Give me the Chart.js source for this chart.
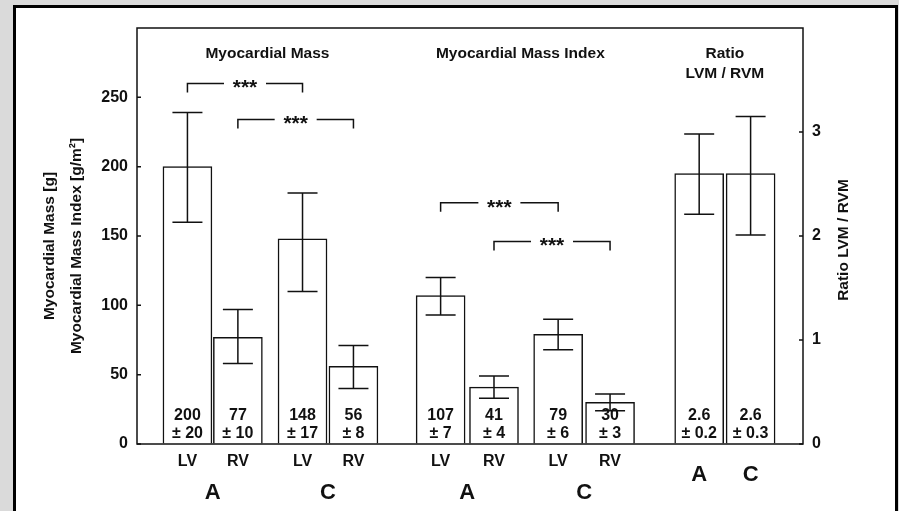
<!DOCTYPE html>
<html>
<head>
<meta charset="utf-8">
<title>Myocardial Mass</title>
<script src="https://cdn.jsdelivr.net/npm/chart.js@4.4.1/dist/chart.umd.min.js"></script>
<style>
  html, body { margin: 0; padding: 0; }
  body { width: 899px; height: 511px; background: #dadada; position: relative; overflow: hidden; }
  #panel { position: absolute; left: 13px; top: 5px; width: 879px; height: 520px; background: #fff;
           border: 3px solid #000; border-bottom: none; }
  #wrap { position: absolute; left: 0; top: 0; width: 899px; height: 511px; }
</style>
</head>
<body>
<div id="panel"></div>
<div id="wrap"><canvas id="massChart" width="899" height="511"></canvas></div>
<script>
// bar labels under each bar (ratio bars use the big group letters instead)
const barLabels = ['LV', 'RV', 'LV', 'RV', 'LV', 'RV', 'LV', 'RV', '', ''];

// myocardial mass [g]
const massValues = [200, 77, 148, 56];
const massSd = [20, 10, 17, 8];
const massErrHi = [239, 97, 181, 71];
const massErrLo = [160, 58, 110, 40];

// myocardial mass index [g/m²]
const indexValues = [107, 41, 79, 30];
const indexSd = [7, 4, 6, 3];
const indexErrHi = [120, 49, 90, 36];
const indexErrLo = [93, 33, 68, 24];

// LVM / RVM ratio
const ratioValues = [2.6, 2.6];
const ratioSd = [0.2, 0.3];
const ratioErrHi = [2.98, 3.15];
const ratioErrLo = [2.21, 2.01];

const leftTicks = [0, 50, 100, 150, 200, 250];
const rightTicks = [0, 1, 2, 3];

// *** brackets: bar slot indices and height on the left axis
const sigFrom = [0, 1, 4, 5];
const sigTo = [2, 3, 6, 7];
const sigLevel = [260, 234, 174, 146];

const groupLetters = ['A', 'C', 'A', 'C', 'A', 'C'];
const groupSlots = [[0, 1], [2, 3], [4, 5], [6, 7], [8], [9]];

const sectionTitles = [['Myocardial Mass'], ['Myocardial Mass Index'], ['Ratio', 'LVM / RVM']];
const sectionSlots = [[0, 3], [4, 7], [8, 9]];
const sectionShift = [-3, -5, 0];

const leftTitle = ['Myocardial Mass [g]', 'Myocardial Mass Index [g/m²]'];
const rightTitle = 'Ratio LVM / RVM';

// layout: bar centres along the hidden x scale, in bar widths
const barPos = [1.03, 2.06, 3.38, 4.42, 6.2, 7.29, 8.6, 9.66, 11.48, 12.53];

const FONT = "'Liberation Sans', Arial, Helvetica, sans-serif";
const INK = '#111';

const slotData = (vals, first) => vals.map((v, i) => ({ x: barPos[first + i], y: v }));

const barStyle = {
  backgroundColor: '#ffffff',
  borderColor: INK,
  borderWidth: 1.5,
  borderSkipped: 'start',
  barThickness: 49,
  grouped: false
};

const decorations = {
  id: 'decorations',
  afterDatasetsDraw(chart) {
    const ctx = chart.ctx;
    const area = chart.chartArea;
    const yL = chart.scales.y;
    const yR = chart.scales.y1;
    const slotX = [];
    ctx.save();
    ctx.strokeStyle = INK;
    ctx.fillStyle = INK;
    ctx.lineWidth = 1.5;

    // error bars and value labels inside the bars
    chart.data.datasets.forEach((ds, di) => {
      const meta = chart.getDatasetMeta(di);
      const sc = chart.scales[ds.yAxisID];
      meta.data.forEach((bar, i) => {
        slotX[ds.firstSlot + i] = bar.x;
        const yHi = sc.getPixelForValue(ds.errHi[i]);
        const yLo = sc.getPixelForValue(ds.errLo[i]);
        ctx.beginPath();
        ctx.moveTo(bar.x, yLo); ctx.lineTo(bar.x, yHi);
        ctx.moveTo(bar.x - 15, yHi); ctx.lineTo(bar.x + 15, yHi);
        ctx.moveTo(bar.x - 15, yLo); ctx.lineTo(bar.x + 15, yLo);
        ctx.stroke();
        ctx.font = 'bold 16px ' + FONT;
        ctx.textAlign = 'center';
        ctx.textBaseline = 'middle';
        ctx.fillText(String(ds.data[i].y), bar.x, area.bottom - 28);
        ctx.fillText('± ' + ds.sd[i], bar.x, area.bottom - 10);
      });
    });

    // significance brackets
    sigFrom.forEach((a, k) => {
      const x1 = slotX[a], x2 = slotX[sigTo[k]];
      const y = yL.getPixelForValue(sigLevel[k]);
      const mid = (x1 + x2) / 2;
      ctx.beginPath();
      ctx.moveTo(x1, y + 9); ctx.lineTo(x1, y); ctx.lineTo(mid - 21, y);
      ctx.moveTo(mid + 21, y); ctx.lineTo(x2, y); ctx.lineTo(x2, y + 9);
      ctx.stroke();
      ctx.font = 'bold 21px ' + FONT;
      ctx.textAlign = 'center';
      ctx.textBaseline = 'middle';
      ctx.fillText('***', mid, y + 5);
    });

    // plot frame
    ctx.strokeRect(area.left, area.top, area.right - area.left, area.bottom - area.top);

    // inward tick marks
    ctx.beginPath();
    leftTicks.forEach(v => {
      const y = yL.getPixelForValue(v);
      ctx.moveTo(area.left, y); ctx.lineTo(area.left + 4, y);
    });
    rightTicks.forEach(v => {
      const y = yR.getPixelForValue(v);
      ctx.moveTo(area.right, y); ctx.lineTo(area.right - 4, y);
    });
    ctx.stroke();

    // section titles
    ctx.font = 'bold 15.5px ' + FONT;
    ctx.textAlign = 'center';
    ctx.textBaseline = 'middle';
    sectionTitles.forEach((lines, s) => {
      const cx = (slotX[sectionSlots[s][0]] + slotX[sectionSlots[s][1]]) / 2 + sectionShift[s];
      lines.forEach((t, j) => ctx.fillText(t, cx, 54 + j * 20));
    });

    // group letters under the bars
    ctx.font = 'bold 22px ' + FONT;
    groupLetters.forEach((t, g) => {
      const sl = groupSlots[g];
      const cx = sl.reduce((s, i) => s + slotX[i], 0) / sl.length;
      ctx.fillText(t, cx, sl.length > 1 ? 493 : 475);
    });

    // axis titles
    ctx.font = 'bold 15.5px ' + FONT;
    ctx.save();
    ctx.translate(50, 246);
    ctx.rotate(-Math.PI / 2);
    ctx.fillText(leftTitle[0], 0, 0);
    ctx.fillText(leftTitle[1], 0, 27);
    ctx.restore();
    ctx.save();
    ctx.translate(844, 240);
    ctx.rotate(-Math.PI / 2);
    ctx.fillText(rightTitle, 0, 0);
    ctx.restore();

    ctx.restore();
  }
};

const tickFont = { family: FONT, size: 16, weight: 'bold' };

new Chart(document.getElementById('massChart'), {
  type: 'bar',
  data: {
    datasets: [
      Object.assign({ label: 'Myocardial Mass', data: slotData(massValues, 0), yAxisID: 'y',
        firstSlot: 0, sd: massSd, errHi: massErrHi, errLo: massErrLo }, barStyle),
      Object.assign({ label: 'Myocardial Mass Index', data: slotData(indexValues, 4), yAxisID: 'y',
        firstSlot: 4, sd: indexSd, errHi: indexErrHi, errLo: indexErrLo }, barStyle),
      Object.assign({ label: 'Ratio LVM / RVM', data: slotData(ratioValues, 8), yAxisID: 'y1',
        firstSlot: 8, sd: ratioSd, errHi: ratioErrHi, errLo: ratioErrLo }, barStyle)
    ]
  },
  options: {
    responsive: false,
    animation: false,
    events: [],
    layout: { padding: { top: 28, left: 0, right: 0, bottom: 0 } },
    plugins: { legend: { display: false }, tooltip: { enabled: false } },
    scales: {
      x: {
        type: 'linear',
        min: 0,
        max: 13.6,
        offset: false,
        grid: { display: false, drawTicks: false },
        border: { display: false },
        afterBuildTicks: s => { s.ticks = barPos.map(v => ({ value: v })); },
        ticks: {
          autoSkip: false, maxRotation: 0, padding: 8, color: INK, font: tickFont,
          callback: (v, i) => barLabels[i]
        },
        afterFit: s => { s.height = 67; }
      },
      y: {
        position: 'left',
        min: 0,
        max: 300,
        grid: { drawOnChartArea: false, drawTicks: false },
        border: { display: false },
        afterBuildTicks: s => { s.ticks = leftTicks.map(v => ({ value: v })); },
        ticks: { padding: 9, color: INK, font: tickFont },
        afterFit: s => { s.width = 137; }
      },
      y1: {
        position: 'right',
        min: 0,
        max: 4,
        grid: { drawOnChartArea: false, drawTicks: false },
        border: { display: false },
        afterBuildTicks: s => { s.ticks = rightTicks.map(v => ({ value: v })); },
        ticks: { padding: 9, color: INK, font: tickFont },
        afterFit: s => { s.width = 96; }
      }
    }
  },
  plugins: [decorations]
});
</script>
</body>
</html>
